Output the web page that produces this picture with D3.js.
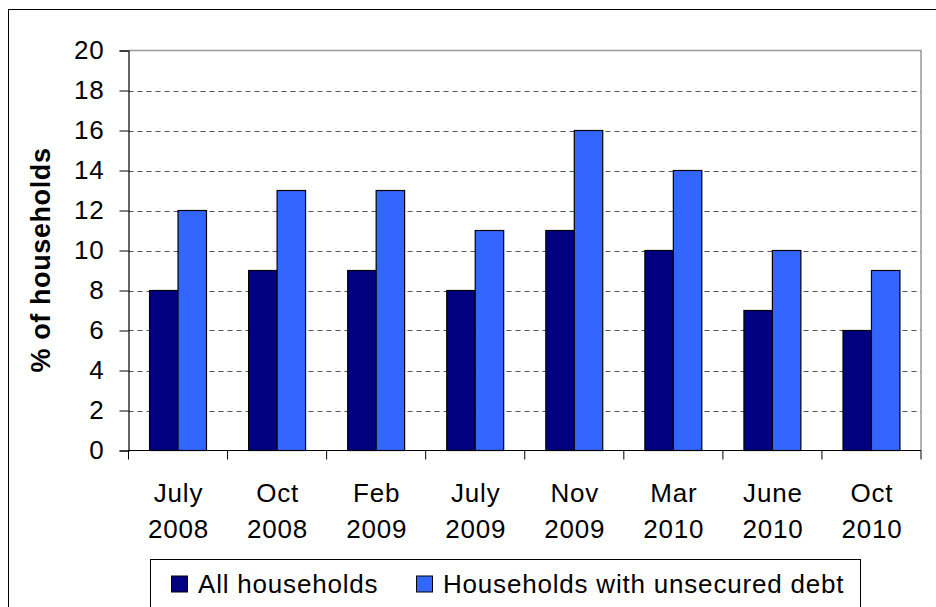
<!DOCTYPE html>
<html>
<head>
<meta charset="utf-8">
<script src="https://cdn.jsdelivr.net/npm/d3@7/dist/d3.min.js"></script>
<style>
  html, body { margin: 0; padding: 0; background: #fff; }
  svg { display: block; }
  text { font-family: "Liberation Sans", Arial, sans-serif; fill: #000; }
</style>
</head>
<body>
<svg id="chart" width="936" height="607"></svg>
<script>
// Survey periods and share of households (%) in each group
const periods = [["July", "2008"], ["Oct", "2008"], ["Feb", "2009"], ["July", "2009"],
                 ["Nov", "2009"], ["Mar", "2010"], ["June", "2010"], ["Oct", "2010"]];
const allHouseholds = [8, 9, 9, 8, 11, 10, 7, 6];
const unsecuredDebt = [12, 13, 13, 11, 16, 14, 10, 9];
const seriesNames = ["All households", "Households with unsecured debt"];
const seriesColors = ["#000080", "#3366FF"];
const yTicks = [0, 2, 4, 6, 8, 10, 12, 14, 16, 18, 20];

const FONT = "26px";
const SPACING = "0.8px";
const svg = d3.select("#chart");

// Outer chart frame
svg.append("rect")
  .attr("x", 8.5).attr("y", 9.5).attr("width", 940).attr("height", 620)
  .attr("fill", "none").attr("stroke", "#000").attr("stroke-width", 1);

const plot = { left: 128.5, top: 50.5, right: 921, bottom: 450.5 };

const x = d3.scaleBand()
  .domain(periods.map((d, i) => i))
  .range([plot.left, plot.right])
  .paddingInner(0).paddingOuter(0);

// Two bars side by side, centred in each category
const inner = d3.scaleBand()
  .domain([0, 1])
  .range([0, x.bandwidth()])
  .paddingInner(0)
  .paddingOuter(0.74);

const y = d3.scaleLinear().domain([0, 20]).range([plot.bottom, plot.top]);

// Plot area border (top and right) in gray
svg.append("path")
  .attr("d", `M${plot.left},${plot.top}H${plot.right}V${plot.bottom}`)
  .attr("fill", "none").attr("stroke", "#999").attr("stroke-width", 1.5);

// Dashed horizontal gridlines
svg.append("g")
  .selectAll("line")
  .data(yTicks.filter(t => t > 0 && t < 20))
  .join("line")
  .attr("x1", plot.left).attr("x2", plot.right)
  .attr("y1", d => Math.round(y(d)) + 0.5).attr("y2", d => Math.round(y(d)) + 0.5)
  .attr("stroke", "#555").attr("stroke-width", 1)
  .attr("stroke-dasharray", "5,4");

// Bars
const data = periods.map((p, i) => ({ i, vals: [allHouseholds[i], unsecuredDebt[i]] }));
const groups = svg.append("g")
  .selectAll("g")
  .data(data)
  .join("g")
  .attr("transform", d => `translate(${x(d.i)},0)`);

groups.selectAll("rect")
  .data(d => d.vals.map((v, s) => ({ v, s })))
  .join("rect")
  .attr("x", d => inner(d.s))
  .attr("y", d => y(d.v))
  .attr("width", inner.bandwidth())
  .attr("height", d => y(0) - y(d.v))
  .attr("fill", d => seriesColors[d.s])
  .attr("stroke", "#000").attr("stroke-width", 1.2);

// Y axis
const yAxis = d3.axisLeft(y).tickValues(yTicks).tickSize(9).tickPadding(15);
const gy = svg.append("g").attr("transform", `translate(${plot.left},0)`).call(yAxis);
gy.select(".domain").attr("stroke", "#000").attr("stroke-width", 1.2);
gy.selectAll(".tick line").attr("stroke", "#000");
gy.selectAll(".tick text")
  .style("font-family", "'Liberation Sans', Arial, sans-serif")
  .style("font-size", FONT).style("letter-spacing", SPACING).attr("fill", "#000");

// X axis: baseline and separators between categories
const gx = svg.append("g");
gx.append("line")
  .attr("x1", plot.left).attr("x2", plot.right)
  .attr("y1", plot.bottom).attr("y2", plot.bottom)
  .attr("stroke", "#000").attr("stroke-width", 1.2);
gx.selectAll("line.sep")
  .data(d3.range(periods.length + 1))
  .join("line")
  .attr("class", "sep")
  .attr("x1", i => i < periods.length ? x(i) : plot.right)
  .attr("x2", i => i < periods.length ? x(i) : plot.right)
  .attr("y1", plot.bottom).attr("y2", plot.bottom + 9)
  .attr("stroke", "#000").attr("stroke-width", 1);

// Two-line category labels
const cx = d => x(d.i) + x.bandwidth() / 2 + 0.5;
const lbl = svg.append("g")
  .selectAll("text")
  .data(periods.map((p, i) => ({ p, i })))
  .join("text")
  .attr("text-anchor", "middle")
  .attr("x", cx)
  .style("font-size", FONT).style("letter-spacing", SPACING);
lbl.append("tspan").attr("x", cx).attr("y", 502).text(d => d.p[0]);
lbl.append("tspan").attr("x", cx).attr("y", 538).text(d => d.p[1]);

// Y axis title
svg.append("text")
  .attr("transform", "translate(50,260) rotate(-90)")
  .attr("text-anchor", "middle")
  .style("font-size", "27px").style("font-weight", "bold").style("letter-spacing", "0.6px")
  .text("% of households");

// Legend
const legend = svg.append("g");
legend.append("rect")
  .attr("x", 150.5).attr("y", 559.5).attr("width", 710).attr("height", 60)
  .attr("fill", "#fff").attr("stroke", "#000").attr("stroke-width", 1);
const legendX = [171, 416];
seriesNames.forEach((name, s) => {
  legend.append("rect")
    .attr("x", legendX[s] + 0.5).attr("y", 576).attr("width", 16).attr("height", 16)
    .attr("fill", seriesColors[s]).attr("stroke", "#000").attr("stroke-width", 1);
  legend.append("text")
    .attr("x", legendX[s] + 27).attr("y", 593)
    .style("font-size", FONT).style("letter-spacing", SPACING)
    .text(name);
});
</script>
</body>
</html>
